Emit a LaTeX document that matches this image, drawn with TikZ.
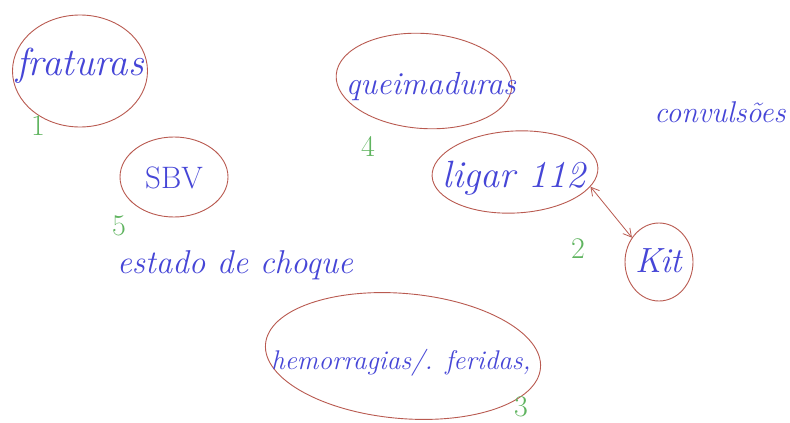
\documentclass[tikz,border=0pt]{standalone}
\usetikzlibrary{shapes.geometric,arrows.meta}
\definecolor{inkblue}{RGB}{70,70,215}
\definecolor{inkred}{RGB}{185,90,80}
\definecolor{inkgreen}{RGB}{95,180,95}
\newcommand{\fsz}[1]{\fontsize{#1}{#1}\selectfont}
\begin{document}
\begin{tikzpicture}[x=1pt,y=-1pt,
  word/.style={text=inkblue,font=\itshape\fsz{27},inner sep=0pt},
  ring/.style={draw=inkred,line width=0.9pt,ellipse,inner sep=0pt},
  num/.style={text=inkgreen,font=\fsz{30},inner sep=0pt},
  link/.style={draw=inkred,line width=0.8pt,{Straight Barb[length=8pt,width=9pt]}-{Straight Barb[length=8pt,width=9pt]}}]
\useasboundingbox (0,0) rectangle (790,423);
\fill[white] (0,0) rectangle (790,423);
% circled nodes
\node[ring,minimum width=135,minimum height=112] (fraturas) at (80,71) {};
\node[word,font=\itshape\fsz{39}] (tfraturas) at (80,66) {fraturas};
\node[ring,minimum width=108,minimum height=80] (sbv) at (174,177) {};
\node[word,font=\fsz{31}] (tsbv) at (174,178) {SBV};
\node[ring,minimum width=176,minimum height=95,rotate=-4] (queim) at (424,81) {};
\node[word,font=\itshape\fsz{32}] (tqueim) at (431,86) {queimaduras};
\node[ring,minimum width=166,minimum height=82,rotate=3] (ligar) at (515,172) {};
\node[word,font=\itshape\fsz{38}] (tligar) at (514,178) {ligar 112};
\node[ring,minimum width=68,minimum height=78] (kit) at (659,262) {};
\node[word,font=\itshape\fsz{35}] (tkit) at (659,261) {Kit};
\node[ring,minimum width=276,minimum height=125,rotate=-5] (hemo) at (403,356) {};
\node[word,font=\itshape\fsz{27}] (themo) at (401,363) {hemorragias/. feridas,};
% free texts
\node[word,font=\itshape\fsz{33}] (choque) at (235,265) {estado de choque};
\node[word,font=\itshape\fsz{30}] (conv) at (720,112) {convulsões};
% numbers
\node[num] (n1) at (38,126) {1};
\node[num] (n5) at (119,226) {5};
\node[num] (n4) at (368,146) {4};
\node[num] (n2) at (578,249) {2};
\node[num] (n3) at (521,407) {3};
% connector
\draw[link] (ligar.-14) -- (kit.138);
\end{tikzpicture}
\end{document}
